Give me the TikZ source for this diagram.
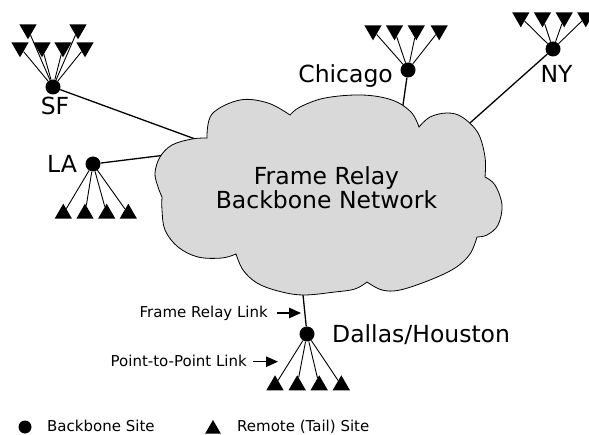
\documentclass[tikz,border=0pt]{standalone}
\usepackage{fontspec}
\setmainfont{DejaVu Sans}
\usetikzlibrary{shapes.geometric,arrows.meta}
\definecolor{cloudgray}{RGB}{217,217,217}
\tikzset{
  site/.style={circle,fill=black,inner sep=0pt,minimum size=15pt},
  tailup/.style={regular polygon,regular polygon sides=3,fill=black,inner sep=0pt,minimum size=20pt},
  taildown/.style={tailup,shape border rotate=180},
  fanline/.style={line width=0.9pt},
  linkline/.style={line width=1.3pt},
  cityname/.style={inner sep=0pt,font=\fontsize{23.5}{28}\selectfont},
  notetext/.style={inner sep=0pt,font=\fontsize{15}{18}\selectfont},
  keytext/.style={inner sep=0pt,font=\fontsize{15}{18}\selectfont},
  pointer/.style={line width=1.2pt,-{Triangle[length=12pt,width=10.5pt]}},
  cloudshape/.style={draw=black,fill=cloudgray,line width=0.8pt},
}
\begin{document}
\begin{tikzpicture}[x=1pt,y=-1pt]
\useasboundingbox (0,0) rectangle (589,435);

% attachment points on the cloud edge
\coordinate (sfport)  at (196.5,139.5);
\coordinate (laport)  at (166,155);
\coordinate (chiport) at (402,112);
\coordinate (nyport)  at (466,126.5);
\coordinate (dalport) at (302.5,290);

% backbone sites
\node[site] (sf)  at (53,87) {};
\node[site] (la)  at (93,164) {};
\node[site] (chi) at (408,70) {};
\node[site] (ny)  at (553,49) {};
\node[site] (dal) at (307,334) {};

% tail sites
\node[taildown] (sf1) at (28,29.3) {};
\node[taildown] (sf2) at (78,29.3) {};
\node[taildown] (sf3) at (20,47.3) {};
\node[taildown] (sf4) at (42,47.3) {};
\node[taildown] (sf5) at (63,47.3) {};
\node[taildown] (sf6) at (85,47.3) {};

\node[taildown] (chi1) at (373,30.3) {};
\node[taildown] (chi2) at (394.5,30.3) {};
\node[taildown] (chi3) at (416.3,30.3) {};
\node[taildown] (chi4) at (439.2,30.3) {};

\node[taildown] (ny1) at (520.8,17.3) {};
\node[taildown] (ny2) at (542.5,17.3) {};
\node[taildown] (ny3) at (564.2,17.3) {};
\node[taildown] (ny4) at (585.8,17.3) {};

\node[tailup] (la1) at (63.3,213.7) {};
\node[tailup] (la2) at (85,213.7) {};
\node[tailup] (la3) at (106.7,213.7) {};
\node[tailup] (la4) at (128.3,213.7) {};

\node[tailup] (dal1) at (275,385.3) {};
\node[tailup] (dal2) at (297.2,385.3) {};
\node[tailup] (dal3) at (319.2,385.3) {};
\node[tailup] (dal4) at (341.3,385.3) {};

% point-to-point tail links
\foreach \t in {sf1,sf2,sf3,sf4,sf5,sf6} \draw[fanline] (sf) -- (\t);
\foreach \t in {chi1,chi2,chi3,chi4} \draw[fanline] (chi) -- (\t);
\foreach \t in {ny1,ny2,ny3,ny4} \draw[fanline] (ny) -- (\t);
\foreach \t in {la1,la2,la3,la4} \draw[fanline] (la) -- (\t);
\foreach \t in {dal1,dal2,dal3,dal4} \draw[fanline] (dal) -- (\t);

% frame relay links into the backbone
\draw[linkline] (sf) -- (sfport);
\draw[linkline] (la) -- (laport);
\draw[linkline] (chi) -- (chiport);
\draw[linkline] (ny) -- (nyport);
\draw[linkline] (dal) -- (dalport);

% backbone cloud, lobe by lobe
\path[cloudshape] (207,138)
  -- plot[smooth,tension=0.6] coordinates {(207,138) (212,114) (240,100) (268,103) (290,115)}
  -- plot[smooth,tension=0.6] coordinates {(290,115) (300,107) (325,98) (362,95) (392,100) (411,112) (419,127)}
  -- plot[smooth,tension=0.6] coordinates {(419,127) (430,117) (447,113) (462,117) (478,133) (485,157) (485,177)}
  -- plot[smooth,tension=0.6] coordinates {(485,177) (495,185) (502,205) (498,225) (487,235) (477,237)}
  -- plot[smooth,tension=0.6] coordinates {(477,237) (470,254) (455,268) (430,280) (400,290) (382,290) (367,282)}
  -- plot[smooth,tension=0.6] coordinates {(367,282) (355,289) (335,292) (303,295) (278,291) (257,283) (243,270) (236,254)}
  -- plot[smooth,tension=0.6] coordinates {(236,254) (222,258) (198,257) (178,247) (165,230) (162,210) (162,197)}
  -- plot[smooth,tension=0.6] coordinates {(162,197) (158,187) (155,173) (160,157) (172,145) (192,139) (207,138)}
  -- cycle;

\node[cityname,align=center,font=\fontsize{23.5}{22}\selectfont] (title) at (326.5,187.5) {Frame Relay\\Backbone Network};

% site names
\node[cityname,anchor=base] (sfname) at (55,115) {SF};
\node[cityname,anchor=base west] (laname) at (47,173) {LA};
\node[cityname,anchor=base east] (chiname) at (393,83) {Chicago};
\node[cityname,anchor=base] (nyname) at (556.5,83) {NY};
\node[cityname,anchor=base west] (dalname) at (332,343) {Dallas/Houston};

% link annotations
\node[notetext,anchor=base east] (frnote) at (268,318) {Frame Relay Link};
\coordinate (frtail) at (277,313);
\coordinate (frtip) at (301,313);
\draw[pointer] (frtail) -- (frtip);

\node[notetext,anchor=base east] (ptpnote) at (247,366.5) {Point-to-Point Link};
\coordinate (ptptail) at (253,361.7);
\coordinate (ptptip) at (278,361.7);
\draw[pointer] (ptptail) -- (ptptip);

% key
\node[site,minimum size=13pt] (keysite) at (25,427) {};
\node[keytext,anchor=base west] (keysitetext) at (47,431.7) {Backbone Site};
\node[tailup,minimum size=18pt] (keytail) at (213,429) {};
\node[keytext,anchor=base west] (keytailtext) at (237,431.7) {Remote (Tail) Site};
\end{tikzpicture}
\end{document}
